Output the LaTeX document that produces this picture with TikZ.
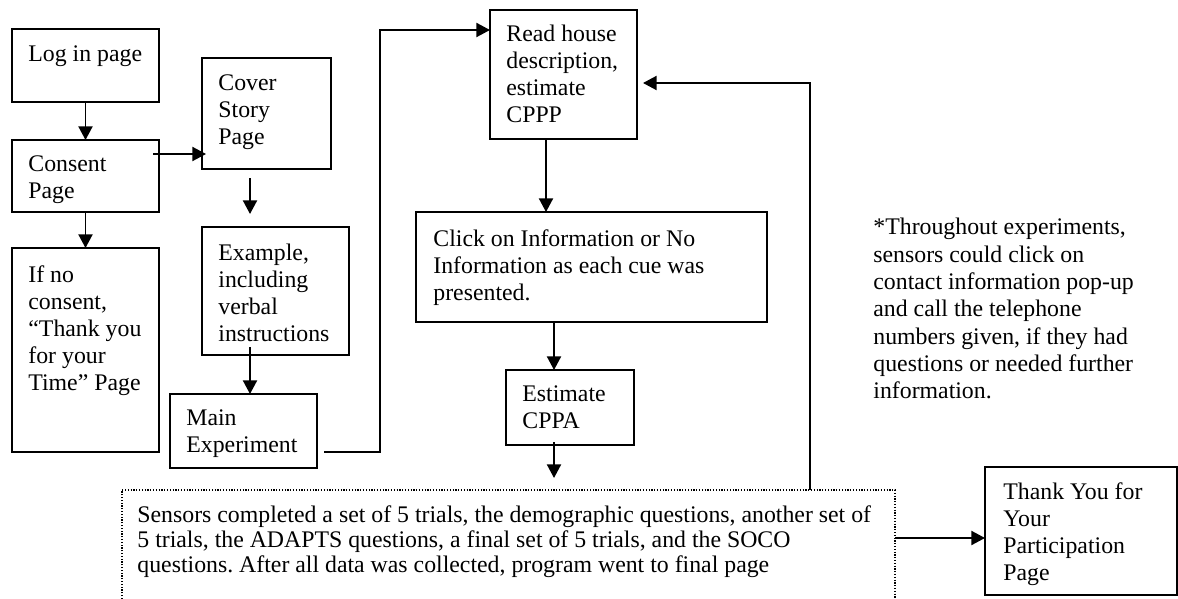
\documentclass[tikz,border=0pt]{standalone}
\usepackage{fontspec}
\setmainfont{Liberation Serif}
\usetikzlibrary{arrows.meta}
\frenchspacing
\begin{document}
\begin{tikzpicture}[x=0.5pt,y=-0.5pt,
  box/.style={draw, line width=0.95pt, anchor=north west, inner sep=0pt, outer sep=0pt},
  txt/.style={anchor=north west, align=left, inner sep=0pt, font=\fontsize{11.9}{13.5}\selectfont},
  arr/.style={line width=0.95pt, -{Triangle[length=6.8pt,width=7pt]}}]
\useasboundingbox (0,0) rectangle (1178,599);

% boxes
\node[box, minimum width=73.5pt, minimum height=36.5pt] (login) at (12,29) {};
\node[box, minimum width=73.5pt, minimum height=36pt] (consent) at (12,140) {};
\node[box, minimum width=73.5pt, minimum height=102pt] (ifno) at (12,248) {};
\node[box, minimum width=64.5pt, minimum height=55.5pt] (cover) at (202,58) {};
\node[box, minimum width=73.5pt, minimum height=64pt] (example) at (202,227) {};
\node[box, minimum width=73.5pt, minimum height=37pt] (main) at (170,394) {};
\node[box, minimum width=73.5pt, minimum height=64.5pt] (read) at (490,10) {};
\node[box, minimum width=175.5pt, minimum height=55pt] (click) at (416,212) {};
\node[box, minimum width=64pt, minimum height=37.5pt] (estimate) at (506,370) {};
\node[box, draw=none, minimum width=386.5pt, minimum height=54.5pt] (db) at (122,490) {};
\node[box, minimum width=96pt, minimum height=64pt] (thank) at (985,467) {};
\draw[line width=0.6pt, dash pattern=on 0.6pt off 0.8pt] (db.south west) -- (db.north west) -- (db.north east) -- (db.south east);

% texts
\node[txt] (tlogin) at (28,45) {Log in page};
\node[txt] (tconsent) at (28,155) {Consent\\Page};
\node[txt] (tifno) at (28,265) {If no\\consent,\\“Thank you\\for your\\Time” Page};
\node[txt] (tcover) at (218,74) {Cover\\Story\\Page};
\node[txt] (texample) at (218,244) {Example,\\including\\verbal\\instructions};
\node[txt] (tmain) at (186,409) {Main\\Experiment};
\node[txt] (tread) at (506,25) {Read house\\description,\\estimate\\CPPP};
\node[txt] (tclick) at (433,229) {Click on Information or No\\Information as each cue was\\presented.};
\node[txt] (testimate) at (522,385) {Estimate\\CPPA};
\node[txt, font=\fontsize{11.9}{12.5}\selectfont] (tdb) at (137,505) {Sensors completed a set of 5 trials, the demographic questions, another set of\\5 trials, the ADAPTS questions, a final set of 5 trials, and the SOCO\\questions. After all data was collected, program went to final page};
\node[txt] (tthank) at (1003,482) {Thank You for\\Your\\Participation\\Page};
\node[txt, font=\fontsize{11.9}{13.65}\selectfont] (tnote) at (873,218) {*Throughout experiments,\\sensors could click on\\contact information pop-up\\and call the telephone\\numbers given, if they had\\questions or needed further\\information.};

% connectors
\coordinate (xa) at (250,0);
\coordinate (ya) at (0,154);
\coordinate (xb) at (546,0);
\coordinate (xc) at (554,0);
\coordinate (m1) at (380,452);
\coordinate (m2) at (380,30);
\coordinate (l1) at (810,83);
\coordinate (yd) at (0,538);

\draw[arr] (login.south) -- (consent.north);
\draw[arr] (consent.south) -- (ifno.north);
\draw[arr, shorten <=-3pt, shorten >=-2pt] (consent.east |- ya) -- (cover.west |- ya);
\draw[arr, shorten <=4.5pt, shorten >=6.5pt] (cover.south -| xa) -- (example.north -| xa);
\draw[arr, shorten <=-4pt] (example.south -| xa) -- (main.north -| xa);
\draw[arr, shorten <=3.5pt] (main.east |- m1) -- (m1) -- (m2) -- (read.west |- m2);
\draw[arr] (read.south -| xb) -- (click.north -| xb);
\draw[arr] (click.south -| xc) -- (estimate.north -| xc);
\draw[arr, shorten <=-1.5pt, shorten >=6pt] (estimate.south -| xc) -- (db.north -| xc);
\draw[arr, shorten >=3pt] (db.north -| l1) -- (l1) -- (read.east |- l1);
\draw[arr] (db.east |- yd) -- (thank.west |- yd);
\end{tikzpicture}
\end{document}
